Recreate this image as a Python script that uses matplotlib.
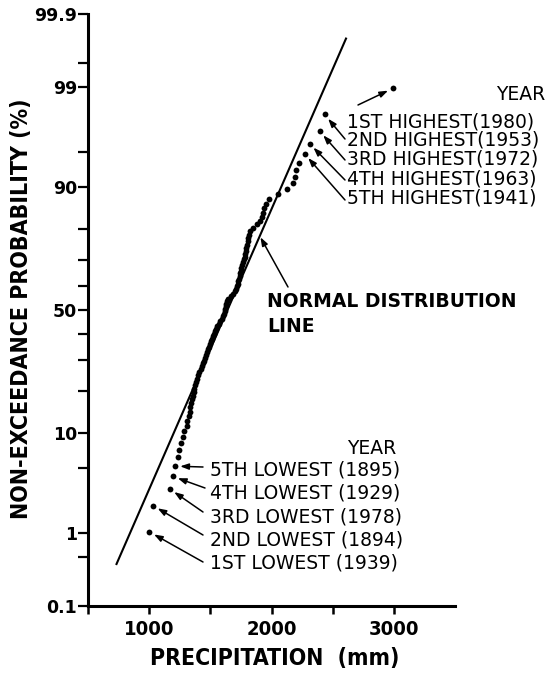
import numpy as np
import matplotlib
matplotlib.use("Agg")
import matplotlib.pyplot as plt
from matplotlib import font_manager as fm

# annual precipitation (mm), sorted
precip = [
    1000, 1030, 1167, 1191, 1208, 1233, 1241, 1257, 1274, 1282,
    1307, 1312, 1323, 1331, 1335, 1340, 1348, 1356, 1364, 1368,
    1372, 1380, 1389, 1397, 1405, 1422, 1430, 1438, 1446, 1455,
    1463, 1475, 1484, 1492, 1500, 1508, 1516, 1525, 1533, 1541,
    1549, 1558, 1570, 1582, 1595, 1603, 1611, 1619, 1623, 1628,
    1632, 1636, 1644, 1665, 1689, 1702, 1710, 1718, 1726, 1730,
    1735, 1739, 1743, 1747, 1751, 1759, 1767, 1776, 1780, 1784,
    1788, 1792, 1800, 1805, 1809, 1817, 1825, 1850, 1883, 1907,
    1920, 1932, 1940, 1957, 1981, 2056, 2130, 2179, 2195, 2204,
    2228, 2270, 2311, 2393, 2434, 2994,
]

# fitted normal distribution line
line_mean = 1640
line_sd = 342
line_range = [0.40, 99.77]  # % at the ends of the drawn line

y_major = [0.1, 1, 10, 50, 90, 99, 99.9]
y_major_labels = ["0.1", "1", "10", "50", "90", "99", "99.9"]
y_minor = [0.5, 5, 20, 30, 40, 60, 70, 80, 95, 99.5]
x_major = [1000, 2000, 3000]
x_minor = [500, 1500, 2500]

high_labels = ["1ST HIGHEST(1980)", "2ND HIGHEST(1953)", "3RD HIGHEST(1972)",
               "4TH HIGHEST(1963)", "5TH HIGHEST(1941)"]
low_labels = ["1ST LOWEST (1939)", "2ND LOWEST (1894)", "3RD LOWEST (1978)",
              "4TH LOWEST (1929)", "5TH LOWEST (1895)"]


def _probit(p):
    # Acklam's inverse normal CDF approximation
    a = [-3.969683028665376e+01, 2.209460984245205e+02, -2.759285104469687e+02,
         1.383577518672690e+02, -3.066479806614716e+01, 2.506628277459239e+00]
    b = [-5.447609879822406e+01, 1.615858368580409e+02, -1.556989798598866e+02,
         6.680131188771972e+01, -1.328068155288572e+01]
    c = [-7.784894002430293e-03, -3.223964580411365e-01, -2.400758277161838e+00,
         -2.549732539343734e+00, 4.374664141464968e+00, 2.938163982698783e+00]
    d = [7.784695709041462e-03, 3.224671290700398e-01, 2.445134137142996e+00,
         3.754408661907416e+00]
    plow = 0.02425
    if p < plow:
        q = np.sqrt(-2 * np.log(p))
        return (((((c[0]*q + c[1])*q + c[2])*q + c[3])*q + c[4])*q + c[5]) / \
               ((((d[0]*q + d[1])*q + d[2])*q + d[3])*q + 1)
    if p > 1 - plow:
        q = np.sqrt(-2 * np.log(1 - p))
        return -(((((c[0]*q + c[1])*q + c[2])*q + c[3])*q + c[4])*q + c[5]) / \
                ((((d[0]*q + d[1])*q + d[2])*q + d[3])*q + 1)
    q = p - 0.5
    r = q * q
    return (((((a[0]*r + a[1])*r + a[2])*r + a[3])*r + a[4])*r + a[5])*q / \
           (((((b[0]*r + b[1])*r + b[2])*r + b[3])*r + b[4])*r + 1)


def probit_pct(pct):
    return np.array([_probit(v / 100.0) for v in np.atleast_1d(pct)])


def condensed_bold_file():
    # look for any narrow / condensed bold face that is installed
    best = None
    for f in fm.fontManager.ttflist:
        tag = (f.name + " " + f.fname).lower()
        narrow = ("narrow" in tag or "condensed" in tag or
                  f.stretch in ("condensed", "semi-condensed", "extra-condensed"))
        if not narrow or "italic" in tag or "oblique" in tag:
            continue
        w = f.weight if isinstance(f.weight, int) else 700 if "bold" in str(f.weight) else 400
        score = abs(w - 700)
        if best is None or score < best[0]:
            best = (score, f.fname)
    return best[1] if best else None


W, H = 556, 677


def fpx(x, y):
    # figure-pixel position -> figure fraction
    return (x / W, 1 - y / H)


cfile = condensed_bold_file()


def cond(size):
    if cfile:
        return fm.FontProperties(fname=cfile, size=size)
    return fm.FontProperties(family="DejaVu Sans", weight="bold", size=size * 0.9)


fig = plt.figure(figsize=(W / 100, H / 100), dpi=100)
ax = fig.add_axes([88 / W, 1 - 606 / H, (455 - 88) / W, (606 - 14) / H])

n = len(precip)
xs = np.sort(np.array(precip, dtype=float))
pos = np.arange(1, n + 1) / (n + 1) * 100  # Weibull plotting position
zs = probit_pct(pos)

ax.plot(xs, zs, "o", color="black", ms=4.2, mew=0, zorder=3)

zl = probit_pct(line_range)
ax.plot(line_mean + line_sd * zl, zl, color="black", lw=1.5)

ax.set_xlim(500, 3500)
ax.set_ylim(probit_pct(0.1)[0], probit_pct(99.9)[0])

for s in ("top", "right"):
    ax.spines[s].set_visible(False)
for s in ("left", "bottom"):
    ax.spines[s].set_linewidth(2.2)

ax.set_yticks(probit_pct(y_major))
ax.set_yticklabels(y_major_labels, fontsize=12.5, fontweight="bold",
                   family="DejaVu Sans")
ax.set_yticks(probit_pct(y_minor), minor=True)
ax.set_xticks(x_major)
ax.set_xticklabels([str(v) for v in x_major], fontproperties=cond(14.5))
ax.set_xticks(x_minor, minor=True)
ax.tick_params(axis="y", which="both", direction="out", length=7, width=1.6, pad=1)
ax.tick_params(axis="x", which="both", direction="out", length=6, width=1.8, pad=4)

fig.text(*fpx(22, 309), "NON-EXCEEDANCE PROBABILITY (%)", rotation=90,
         ha="center", va="center", fontproperties=cond(16.6))
fig.text(*fpx(275, 659), "PRECIPITATION  (mm)", ha="center", va="center",
         fontproperties=cond(16.5))

arrow = dict(arrowstyle="-|>,head_length=0.5,head_width=0.18", color="black",
             lw=1.1, shrinkA=0, shrinkB=4)

# highest five
fig.text(*fpx(545, 94), "YEAR", ha="right", va="center", fontsize=13.5)
high_rows = [122, 140, 159, 179, 198]
high_tails = [(358, 105), (345, 139), (345, 160), (345, 180), (345, 200)]
for k in range(5):
    fig.text(*fpx(347, high_rows[k]), high_labels[k], ha="left", va="center",
             fontsize=13.5)
    ax.annotate("", xy=(xs[n - 1 - k], zs[n - 1 - k]), xycoords="data",
                xytext=fpx(*high_tails[k]), textcoords="figure fraction",
                arrowprops=arrow, annotation_clip=False)

# lowest five
fig.text(*fpx(347, 448), "YEAR", ha="left", va="center", fontsize=13.5)
low_rows = [563, 540, 517, 493, 470]
low_tails = [(203, 562), (203, 535), (203, 512), (205, 488), (203, 467)]
for k in range(5):
    fig.text(*fpx(210, low_rows[k]), low_labels[k], ha="left", va="center",
             fontsize=13.5)
    ax.annotate("", xy=(xs[k], zs[k]), xycoords="data",
                xytext=fpx(*low_tails[k]), textcoords="figure fraction",
                arrowprops=arrow, annotation_clip=False)

# normal distribution line label
zp = probit_pct(78)[0]
ax.annotate("", xy=(line_mean + line_sd * zp, zp), xycoords="data",
            xytext=fpx(288, 287), textcoords="figure fraction",
            arrowprops=dict(arrow, shrinkB=1))
fig.text(*fpx(267, 314), "NORMAL DISTRIBUTION\nLINE", ha="left", va="center",
         fontsize=13.5, fontweight="bold", linespacing=1.35)

fig.savefig("out.png", dpi=100)
